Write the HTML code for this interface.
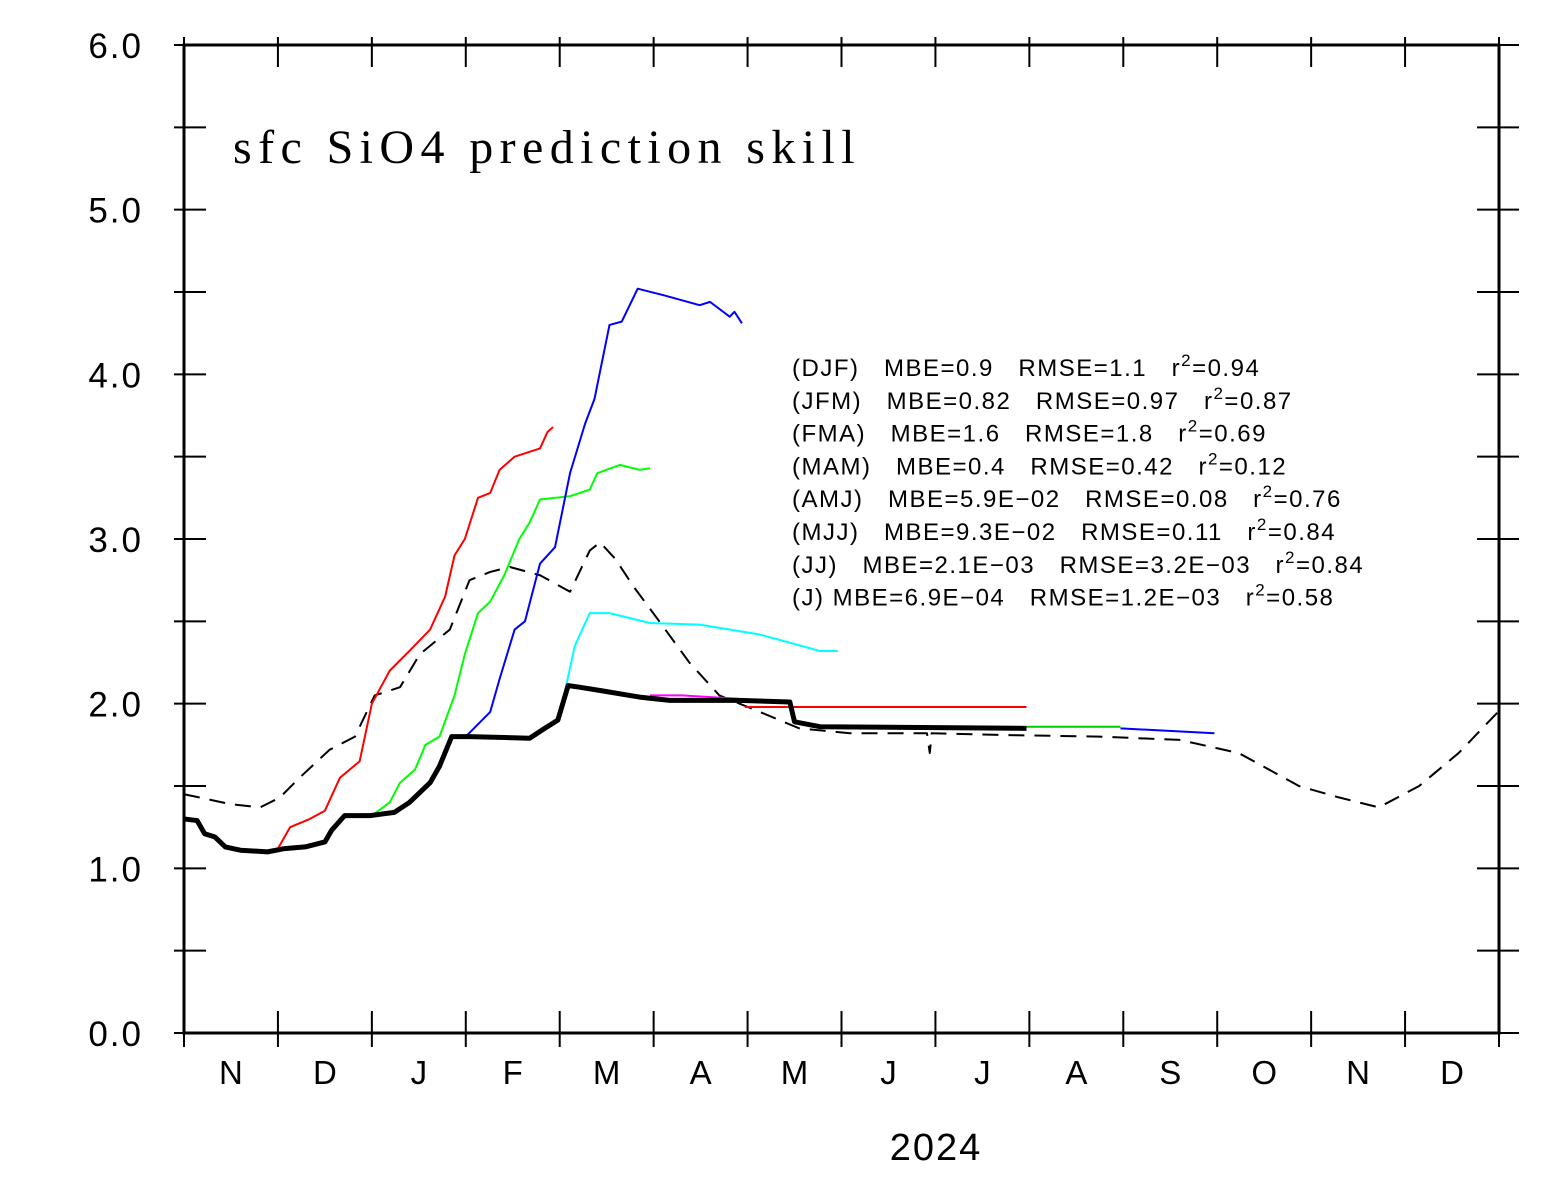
<!DOCTYPE html>
<html><head><meta charset="utf-8"><style>
html,body{margin:0;padding:0;background:#fff}
svg{display:block}
text{font-family:"Liberation Sans",sans-serif}
</style></head><body>
<svg id="chart" width="1556" height="1182" viewBox="0 0 1556 1182" xmlns="http://www.w3.org/2000/svg">
<text x="233" y="163" font-size="48" style="font-family:'Liberation Serif',serif" letter-spacing="6.4">sfc SiO4 prediction skill</text>
<g id="legend" font-size="24" letter-spacing="1.5" fill="#000"></g>
<g id="axes"></g>
<g id="series"></g>
<text x="936" y="1160" font-size="38" letter-spacing="2" text-anchor="middle">2024</text>
</svg>
<script>
// time in months since 1 Nov 2023; values in SiO4 units
const monthLabels = ["N","D","J","F","M","A","M","J","J","A","S","O","N","D"];
const yTicks = [0,1,2,3,4,5,6];
const blackT = [0,0.14,0.22,0.33,0.44,0.6,0.89,1.07,1.29,1.5,1.57,1.71,1.98,2.24,2.4,2.62,2.72,2.85,3.04,3.68,3.84,3.98,4.09,4.21,4.43,4.85,5.17,5.91,6.45,6.5,6.77,8.97];
const blackV = [1.30,1.29,1.21,1.19,1.13,1.11,1.10,1.12,1.13,1.16,1.23,1.32,1.32,1.34,1.40,1.52,1.62,1.80,1.80,1.79,1.85,1.90,2.11,2.10,2.08,2.04,2.02,2.02,2.01,1.89,1.86,1.85];
const dashT = [0,0.17,0.49,0.81,1.02,1.23,1.55,1.82,2.03,2.3,2.51,2.83,3.04,3.26,3.47,3.79,4.11,4.32,4.43,4.59,4.8,5.06,5.38,5.7,6.13,6.55,7.09,7.62,7.91,7.94,7.96,8.68,9.74,10.6,11.23,11.87,12.3,12.72,13.15,13.57,13.99];
const dashV = [1.45,1.43,1.39,1.37,1.43,1.55,1.72,1.80,2.05,2.10,2.30,2.45,2.75,2.80,2.83,2.78,2.68,2.93,2.98,2.88,2.70,2.50,2.25,2.05,1.95,1.85,1.82,1.82,1.82,1.70,1.82,1.81,1.80,1.78,1.70,1.50,1.43,1.37,1.50,1.70,1.95];
const redT = [1.0,1.13,1.34,1.5,1.66,1.87,2.0,2.19,2.4,2.62,2.78,2.88,2.99,3.13,3.26,3.36,3.52,3.79,3.87,3.93];
const redV = [1.12,1.25,1.30,1.35,1.55,1.65,2.0,2.2,2.32,2.45,2.65,2.9,3.0,3.25,3.28,3.42,3.50,3.55,3.65,3.68];
const greenT = [2.0,2.19,2.3,2.46,2.57,2.72,2.88,2.99,3.13,3.26,3.41,3.57,3.68,3.79,4.11,4.32,4.4,4.64,4.85,4.96];
const greenV = [1.32,1.40,1.52,1.60,1.75,1.80,2.05,2.3,2.55,2.62,2.78,3.0,3.1,3.24,3.26,3.30,3.40,3.45,3.42,3.43];
const blueT = [3.0,3.26,3.36,3.52,3.63,3.79,3.95,4.11,4.27,4.37,4.53,4.66,4.83,5.11,5.49,5.6,5.81,5.86,5.94];
const blueV = [1.80,1.95,2.15,2.45,2.5,2.85,2.95,3.4,3.7,3.85,4.3,4.32,4.52,4.48,4.42,4.44,4.35,4.38,4.31];
const cyanT = [3.99,4.16,4.32,4.53,4.96,5.49,6.13,6.77,6.96];
const cyanV = [1.90,2.35,2.55,2.55,2.49,2.48,2.42,2.32,2.32];
const magT = [4.96,5.3,5.9]; const magV = [2.05,2.05,2.03];
const red2T = [5.97,8.97]; const red2V = [1.98,1.98];
const green2T = [8.97,9.97]; const green2V = [1.86,1.86];
const blue2T = [9.97,10.97]; const blue2V = [1.85,1.82];
const legendLines = [
 ["(DJF)   MBE=0.9   RMSE=1.1   r","0.94"],
 ["(JFM)   MBE=0.82   RMSE=0.97   r","0.87"],
 ["(FMA)   MBE=1.6   RMSE=1.8   r","0.69"],
 ["(MAM)   MBE=0.4   RMSE=0.42   r","0.12"],
 ["(AMJ)   MBE=5.9E\u221202   RMSE=0.08   r","0.76"],
 ["(MJJ)   MBE=9.3E\u221202   RMSE=0.11   r","0.84"],
 ["(JJ)   MBE=2.1E\u221203   RMSE=3.2E\u221203   r","0.84"],
 ["(J) MBE=6.9E\u221204   RMSE=1.2E\u221203   r","0.58"]];

const NS="http://www.w3.org/2000/svg";
const X0=184,X1=1499,Y0=1033,Y1=45;
const xs=t=>X0+t*(X1-X0)/14;
const ys=v=>Y0-v*(Y0-Y1)/6;
function mk(tag,attrs,parent){const e=document.createElementNS(NS,tag);for(const k in attrs)e.setAttribute(k,attrs[k]);parent.appendChild(e);return e;}
const axes=document.getElementById('axes');
const frame=mk('rect',{x:X0,y:Y1,width:X1-X0,height:Y0-Y1,fill:'none',stroke:'#000','stroke-width':3},axes);


for(let i=0;i<=12;i++){
  const v=i*0.5,y=ys(v);
  const t1=mk('line',{x1:X0-10,x2:X0+22,y1:y,y2:y,stroke:'#000','stroke-width':2},axes);
  
  
  const t2=mk('line',{x1:X1-22,x2:X1+20,y1:y,y2:y,stroke:'#000','stroke-width':2},axes);
  
  
}
yTicks.forEach(v=>{
  const t=mk('text',{x:143,y:ys(v)+13,'font-size':35,'letter-spacing':2,'text-anchor':'end'},axes);t.textContent=v.toFixed(1);
  
  
});
for(let i=0;i<=14;i++){
  const x=xs(i);
  const a=mk('line',{x1:x,x2:x,y1:Y0-22,y2:Y0+14,stroke:'#000','stroke-width':2},axes);
  
  
  const b=mk('line',{x1:x,x2:x,y1:Y1-8,y2:Y1+22,stroke:'#000','stroke-width':2},axes);
  
  
}
monthLabels.forEach((m,i)=>{
  const t=mk('text',{x:xs(i+0.5),y:1084,'font-size':33,'text-anchor':'middle'},axes);t.textContent=m;
  
  
});
const ser=document.getElementById('series');
function line(T,V,color,w,name,dash){
  const p=mk('polyline',{points:T.map((t,i)=>xs(t)+','+ys(V[i])).join(' '),fill:'none',stroke:color,'stroke-width':w,'stroke-linejoin':'round'},ser);
  if(dash)p.setAttribute('stroke-dasharray',dash);
  
  
}
line(dashT,dashV,'#000',2,'climatology-dashed-line','16,10');
line(red2T,red2V,'#f00',2,'red-flat-line');
line(magT,magV,'#f0f',2,'magenta-line');
line(green2T,green2V,'#0c0',2,'green-flat-line');
line(blue2T,blue2V,'#00f',2,'blue-flat-line');
line(cyanT,cyanV,'#0ff',2,'cyan-line');
line(redT,redV,'#f00',2,'red-line');
line(greenT,greenV,'#0f0',2,'green-line');
line(blueT,blueV,'#00f',2,'blue-line');
line(blackT,blackV,'#000',5,'observed-thick-line');
const lg=document.getElementById('legend');
legendLines.forEach((l,i)=>{
  const t=mk('text',{x:792,y:376+i*32.8},lg);
  
  
  t.setAttribute('style','white-space:pre');
  const a=document.createElementNS(NS,'tspan');a.textContent=l[0];t.appendChild(a);
  const s=document.createElementNS(NS,'tspan');s.setAttribute('dy','-10');s.setAttribute('font-size','17');s.textContent='2';t.appendChild(s);
  const c=document.createElementNS(NS,'tspan');c.setAttribute('dy','10');c.textContent='='+l[1];t.appendChild(c);
});
</script>
</body></html>
